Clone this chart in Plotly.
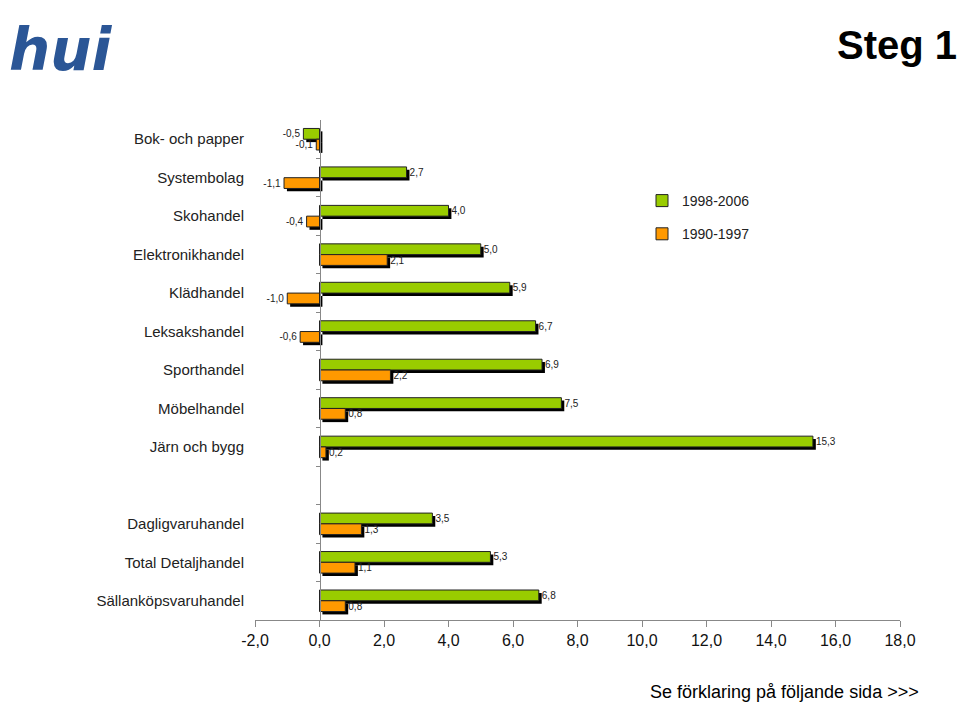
import plotly.graph_objects as go

categories = ["Bok- och papper", "Systembolag", "Skohandel", "Elektronikhandel",
              "Klädhandel", "Leksakshandel", "Sporthandel", "Möbelhandel",
              "Järn och bygg", "", "Dagligvaruhandel", "Total Detaljhandel",
              "Sällanköpsvaruhandel"]
green_1998_2006 = [-0.5, 2.7, 4.0, 5.0, 5.9, 6.7, 6.9, 7.5, 15.3, None, 3.5, 5.3, 6.8]
orange_1990_1997 = [-0.1, -1.1, -0.4, 2.1, -1.0, -0.6, 2.2, 0.8, 0.2, None, 1.3, 1.1, 0.8]
x_ticks = [-2, 0, 2, 4, 6, 8, 10, 12, 14, 16, 18]
x_tick_labels = ["-2,0", "0,0", "2,0", "4,0", "6,0", "8,0", "10,0", "12,0", "14,0", "16,0", "18,0"]

GREEN = "#99CC00"
ORANGE = "#FF9900"
FONT = "Arial, Liberation Sans, sans-serif"

pos = list(range(len(categories)))
bw = 0.28          # bar thickness (category units)
sdx = 0.09         # shadow shift along x (data units)
sdy = 0.075        # shadow shift along y (category units)

fig = go.Figure()

# shadows
for vals, off in [(green_1998_2006, -bw), (orange_1990_1997, 0.0)]:
    fig.add_trace(go.Bar(
        y=pos, x=vals, base=[sdx] * len(vals), orientation="h",
        width=bw, offset=off + sdy, marker=dict(color="black", line=dict(width=0)),
        showlegend=False, hoverinfo="skip"))

# main bars
for name, vals, col, off in [("1998-2006", green_1998_2006, GREEN, -bw),
                             ("1990-1997", orange_1990_1997, ORANGE, 0.0)]:
    fig.add_trace(go.Bar(
        y=pos, x=vals, orientation="h", name=name, legendgroup=name,
        width=bw, offset=off,
        marker=dict(color=col, line=dict(color="#222222", width=1)),
        texttemplate="%{x:.1f}", textposition="outside", constraintext="none",
        textfont=dict(family=FONT, size=10, color="#222222"),
        cliponaxis=False))

# carrier for the category-label axis (draws nothing)
fig.add_trace(go.Scatter(y=pos, x=green_1998_2006, mode="none", yaxis="y2",
                         showlegend=False, hoverinfo="skip"))

fig.update_layout(
    width=959, height=704,
    margin=dict(l=255, r=59, t=120, b=84),
    paper_bgcolor="white", plot_bgcolor="white",
    barmode="overlay",
    separators=", ",
    font=dict(family=FONT, color="#111111"),
    showlegend=True,
    legend=dict(x=0.6, y=0.87, xanchor="left", yanchor="top",
                traceorder="grouped", tracegroupgap=12,
                font=dict(family=FONT, size=14, color="#222222"),
                bgcolor="rgba(0,0,0,0)"),
    xaxis=dict(range=[-2, 18], tickvals=x_ticks, ticktext=x_tick_labels,
               showline=True, linecolor="#888888", linewidth=1,
               ticks="outside", ticklen=6, tickcolor="#888888",
               showgrid=False, zeroline=False,
               tickfont=dict(family=FONT, size=16, color="#111111")),
    yaxis=dict(range=[len(categories) - 0.5, -0.5], anchor="free", position=0.1,
               side="left",
               showline=True, linecolor="#888888", linewidth=1,
               ticks="outside", ticklen=4, tickcolor="#888888",
               tickvals=[p + 0.5 for p in pos[:-1]],
               showticklabels=False, showgrid=False, zeroline=False),
    yaxis2=dict(range=[len(categories) - 0.5, -0.5], overlaying="y", anchor="free",
                position=0, side="left",
                tickvals=pos, ticktext=categories,
                ticks="outside", ticklen=8, tickcolor="rgba(0,0,0,0)",
                showline=False, showgrid=False, zeroline=False,
                tickfont=dict(family=FONT, size=15, color="#222222")),
)

fig.add_annotation(text="Steg 1", xref="paper", yref="paper", x=1.092, y=1.15,
                   xanchor="right", yanchor="middle", showarrow=False,
                   font=dict(family=FONT, size=40, color="black", weight="bold"))
fig.add_annotation(text="Se förklaring på följande sida >>>", xref="paper", yref="paper",
                   x=1.033, y=-0.144, xanchor="right", yanchor="middle", showarrow=False,
                   font=dict(family=FONT, size=18, color="black"))
fig.add_annotation(text="<b><i>hui</i></b>", xref="paper", yref="paper",
                   x=-0.385, y=1.14, xanchor="left", yanchor="middle", showarrow=False,
                   font=dict(family="DejaVu Sans", size=58, color="#2B5696"))

fig.write_html("out.html")
